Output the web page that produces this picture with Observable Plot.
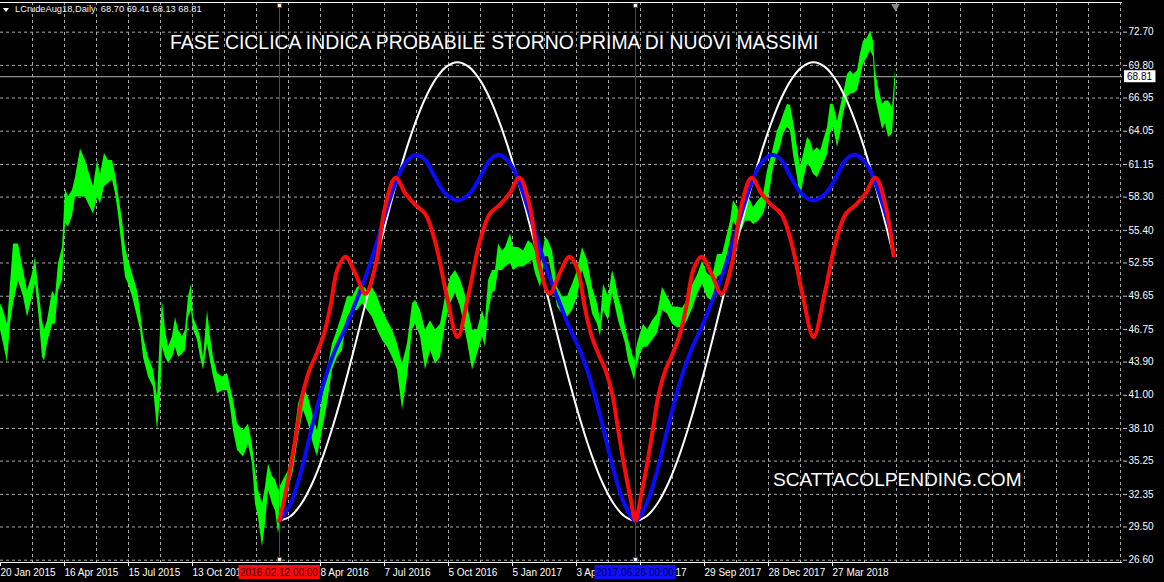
<!DOCTYPE html>
<html><head><meta charset="utf-8">
<script src="https://cdn.jsdelivr.net/npm/d3@7"></script>
<script src="https://cdn.jsdelivr.net/npm/@observablehq/plot@0.6"></script>
<style>
html,body{margin:0;padding:0;background:#000;}
#wrap{position:relative;width:1164px;height:582px;background:#000;overflow:hidden;font-family:"Liberation Sans",Arial,sans-serif;}
.ov{position:absolute;white-space:pre;line-height:1;color:#fff;}
</style></head><body>
<div id="wrap"></div>
<script>
// ---- data ----
const yTicks = [72.70, 69.80, 66.95, 64.05, 61.15, 58.30, 55.40, 52.55, 49.65, 46.75, 43.90, 41.00, 38.10, 35.25, 32.35, 29.50, 26.60];
const xTickBars = [0, 64, 128, 192, 320, 384, 448, 512, 576, 640, 704, 768, 832];
const xTickLabels = ["20 Jan 2015","16 Apr 2015","15 Jul 2015","13 Oct 2015","8 Apr 2016","7 Jul 2016","5 Oct 2016","5 Jan 2017","3 Apr 2017","3 Jul 2017","29 Sep 2017","28 Dec 2017","27 Mar 2018"];
const gridBars = [32,64,96,128,160,192,224,256,288,320,352,384,416,448,480,512,544,576,608,640,672,704,736,768,800,832,864,896,928,960,992,1024,1056,1088,1120];

const greenBar = [0,3,7,10,13,18,23,27,32,35,38,42,44,47,52,55,58,62,65,68,72,75,80,85,88,93,97,100,104,108,112,115,118,122,125,128,132,137,140,143,148,153,157,160,162,165,168,172,175,178,182,185,188,191,193,197,200,203,207,210,213,217,222,227,230,233,237,243,248,252,255,258,262,265,268,272,275,278,283,288,293,298,303,308,313,317,322,327,332,337,342,347,352,357,362,367,372,377,382,387,392,397,402,407,412,415,420,425,430,435,440,445,450,455,460,465,472,477,482,485,488,492,495,498,502,505,510,513,518,523,528,532,535,540,545,548,552,557,562,567,572,577,582,587,592,597,600,603,608,612,615,618,622,625,628,632,634,637,640,643,647,652,657,662,667,672,677,682,687,692,697,702,707,712,717,722,727,730,733,737,740,745,750,753,758,763,767,770,773,777,780,783,787,790,793,797,800,803,807,810,813,817,820,823,827,830,833,837,840,843,847,850,853,857,860,863,867,870,873,875,878,882,885,888,892,895];
const greenLow = [46.7,45.5,43.8,47.2,49.0,51.0,49.6,47.8,49.6,50.7,48.4,44.3,44.0,45.5,47.2,47.2,50.1,51.0,56.0,55.7,56.6,58.3,58.3,58.3,57.7,56.8,58.3,57.7,59.2,59.5,59.8,58.6,56.8,53.6,51.3,50.7,49.6,47.8,46.7,44.3,42.6,41.7,37.9,40.8,45.2,44.3,43.8,44.3,45.2,44.3,44.6,44.9,47.8,48.4,46.7,45.8,44.3,43.2,45.5,44.0,42.6,41.1,41.4,41.4,40.0,37.9,36.2,35.6,36.7,35.0,31.5,30.3,27.7,29.8,32.7,31.5,30.9,28.9,31.5,32.7,34.4,37.3,39.7,38.5,36.7,35.6,37.9,40.2,43.2,44.3,44.9,47.8,48.4,48.4,49.0,48.4,47.8,46.7,45.8,45.2,44.3,43.2,39.7,42.6,46.7,47.2,46.1,43.2,44.9,43.7,44.3,47.2,49.0,49.9,48.7,46.6,43.2,44.6,46.1,45.2,48.1,49.9,50.1,51.9,51.9,52.2,52.5,51.9,52.2,52.2,52.5,52.8,51.6,50.4,53.1,53.1,51.3,48.7,48.1,47.8,48.4,49.6,51.9,50.4,48.1,47.2,46.1,48.4,47.5,49.9,48.7,47.5,46.4,45.5,44.0,42.9,42.3,43.7,44.6,45.2,45.2,45.8,46.4,48.4,48.1,47.2,46.9,46.9,47.5,48.5,49.8,50.7,49.5,49.2,51.3,51.6,53.3,54.5,56.2,55.6,55.1,56.2,56.2,55.9,56.2,56.8,58.0,59.1,60.9,62.0,62.6,63.8,64.4,64.1,62.0,60.0,58.0,59.7,61.2,60.9,60.3,60.0,60.6,61.2,62.0,63.8,64.4,62.6,63.8,65.5,67.0,67.3,67.3,67.6,68.7,69.9,70.5,71.1,70.5,67.0,65.8,64.2,64.7,63.5,63.8,68.1];
const greenHigh = [49.0,48.4,47.2,50.7,54.2,54.2,51.9,50.1,51.6,53.1,50.4,47.5,46.7,47.5,50.1,49.6,52.5,53.9,59.0,58.3,58.9,60.0,62.5,61.5,60.6,59.2,61.5,60.3,62.1,61.5,61.5,60.3,58.6,56.3,53.9,52.8,51.6,50.1,48.4,46.1,44.3,43.2,40.8,46.7,49.3,46.7,45.2,46.1,47.8,46.7,46.1,46.7,49.6,50.7,47.8,46.9,46.1,44.3,48.4,46.1,44.3,42.9,42.6,42.9,41.7,40.6,38.5,37.9,38.5,36.7,34.4,32.7,31.5,33.0,35.0,33.9,33.6,32.7,33.6,34.4,36.7,40.2,41.7,40.8,39.1,37.9,40.8,43.2,45.5,46.7,48.1,49.6,49.6,50.4,50.7,50.1,50.4,49.6,48.4,47.5,46.7,45.5,43.7,45.5,49.0,49.3,48.4,46.7,47.5,46.7,47.2,49.6,51.3,51.9,51.1,49.7,46.7,46.7,48.4,47.5,51.0,51.9,51.9,54.2,53.6,53.9,55.1,53.9,53.9,53.6,54.5,54.2,53.6,52.2,54.8,54.5,53.6,50.4,49.6,49.6,50.7,51.9,53.9,52.8,50.4,49.0,47.5,50.7,49.6,51.9,51.0,49.6,48.4,47.0,45.8,44.6,44.0,45.5,46.4,47.2,46.7,47.5,48.1,50.4,49.6,48.7,48.7,48.6,49.3,50.6,51.5,52.7,51.6,51.3,53.3,53.3,55.1,56.2,58.0,57.4,56.8,58.5,58.0,57.4,58.0,58.5,60.6,61.5,62.6,64.1,64.7,65.5,66.4,66.3,64.9,62.6,60.9,62.0,63.5,63.2,62.3,62.6,62.3,63.2,64.4,66.4,66.4,64.9,66.1,67.3,69.0,69.3,69.0,69.3,70.8,71.9,72.2,72.8,71.9,69.3,67.9,66.4,66.7,66.7,66.1,69.4];

const whiteBar = [279,290,301,312,323,334,345,356,367,378,389,399,407,416,425,434,445,457,469,480,489,498,507,515,525,536,547,558,569,580,591,602,613,624,635,646,657,668,679,690,701,712,723,734,745,755,763,772,781,790,801,813,825,836,845,854,863,871,881,892];
const whiteVal = [30.06,30.44,31.55,33.36,35.80,38.77,42.17,45.86,49.72,53.58,57.32,60.48,62.79,65.06,66.97,68.45,69.63,70.08,69.63,68.45,66.97,65.06,62.79,60.48,57.32,53.58,49.72,45.86,42.17,38.77,35.80,33.36,31.55,30.44,30.06,30.44,31.55,33.36,35.80,38.77,42.17,45.86,49.72,53.58,57.32,60.48,62.79,65.06,66.97,68.45,69.63,70.08,69.63,68.45,66.97,65.06,62.79,60.48,57.32,53.58];

const blueBar = whiteBar;
const blueVal = [30.06,31.5,34.5,38.4,42.0,44.8,46.9,49.3,51.8,54.8,58.0,60.4,61.5,62.0,61.5,60.1,58.6,58.0,58.6,60.1,61.5,62.0,61.5,60.4,58.0,54.8,51.8,49.3,46.9,44.8,42.0,38.4,34.5,31.5,30.06,31.5,34.5,38.4,42.0,44.8,46.9,49.3,51.8,54.8,58.0,60.4,61.5,62.0,61.5,60.1,58.6,58.0,58.6,60.1,61.5,62.0,61.5,60.4,58.0,54.8];

const redBar = [279,284,290,296,302,309,316,323,330,337,345,355,365,375,385,395,405,415,425,435,446,457,468,479,489,499,509,519,529,539,549,559,569,577,584,591,598,605,612,618,624,630,635,640,646,652,658,665,672,679,686,693,701,711,721,731,741,751,761,771,781,791,802,813,824,835,845,855,865,875,885,893];
const redVal = [30.06,32.0,34.7,37.8,41.0,43.2,44.6,46.2,48.8,52.0,53.1,51.6,49.86,52.3,57.6,60.0,58.6,57.6,56.8,54.3,49.8,46.07,49.8,54.3,56.8,57.6,58.6,60.0,57.6,52.3,49.86,51.6,53.1,52.0,48.8,46.2,44.6,43.2,41.0,37.8,34.7,32.0,30.06,32.0,34.7,37.8,41.0,43.2,44.6,46.2,48.8,52.0,53.1,51.6,49.86,52.3,57.6,60.0,58.6,57.6,56.8,54.3,49.8,46.07,49.8,54.3,56.8,57.6,58.6,60.0,57.6,53.2];

const redLineBar = 279, redLineLabel = "2016.02.12 00:00";
const blueLineBar = 635, blueLineLabel = "2017.06.26 00:00";
const lastBar = 895, lastClose = 68.81;
const headerText = "LCrudeAug18,Daily  68.70 69.41 68.13 68.81";
const titleText = "FASE CICLICA INDICA PROBABILE STORNO PRIMA DI NUOVI MASSIMI";
const siteText = "SCATTACOLPENDING.COM";
const yDomain = [26.40, 75.29];
const xDomain = [0, 1122];

// ---- build ----
const green = greenBar.map((b, i) => ({b, lo: greenLow[i], hi: greenHigh[i]}));
const white = whiteBar.map((b, i) => ({b, v: whiteVal[i]}));
const blue = blueBar.map((b, i) => ({b, v: blueVal[i]}));
const red = redBar.map((b, i) => ({b, v: redVal[i]}));
const labelMap = new Map(xTickBars.map((b, i) => [b, xTickLabels[i]]));

const plot = Plot.plot({
  width: 1164, height: 582,
  marginLeft: 0, marginRight: 42, marginTop: 2, marginBottom: 20,
  style: {background: "#000", color: "#fff", fontFamily: "Liberation Sans, Arial, sans-serif", fontSize: "10px"},
  x: {domain: xDomain, axis: null},
  y: {domain: yDomain, axis: null},
  marks: [
    Plot.gridY(yTicks, {stroke: "#a8a8a8", strokeOpacity: 1, strokeDasharray: "3,3"}),
    Plot.gridX(gridBars, {stroke: "#a8a8a8", strokeOpacity: 1, strokeDasharray: "3,3"}),
    Plot.ruleY([lastClose], {stroke: "#b4b4b4", strokeWidth: 1}),
    Plot.areaY(green, {x: "b", y1: "lo", y2: "hi", fill: "#00ff00", curve: "linear"}),
    Plot.ruleX([redLineBar], {stroke: "#ff0000", strokeWidth: 1, shapeRendering: "crispEdges"}),
    Plot.ruleX([blueLineBar], {stroke: "#3030ff", strokeWidth: 1, shapeRendering: "crispEdges"}),
    Plot.line(white, {x: "b", y: "v", stroke: "#ffffff", strokeWidth: 2, curve: "catmull-rom"}),
    Plot.line(blue, {x: "b", y: "v", stroke: "#0a0aff", strokeWidth: 4, curve: "catmull-rom"}),
    Plot.line(red, {x: "b", y: "v", stroke: "#ff0a0a", strokeWidth: 4, curve: "catmull-rom"}),
    Plot.ruleY([yDomain[0], yDomain[1]], {stroke: "#ffffff", strokeWidth: 1}),
    Plot.axisY(yTicks, {anchor: "right", tickFormat: d => d.toFixed(2), tickSize: 4, tickPadding: 2, stroke: "#c8c8c8", fill: "#ffffff", fontSize: 10, label: null}),
    Plot.axisX(xTickBars, {anchor: "bottom", tickFormat: d => labelMap.get(d), tickSize: 4, tickPadding: 2, textAnchor: "start", stroke: "#ffffff", fill: "#ffffff", fontSize: 10, label: null}),
    Plot.dot([redLineBar], {x: d => d, frameAnchor: "top", dy: 3, symbol: "square", r: 2.2, fill: "#fff", stroke: "#ff0000", strokeWidth: 1}),
    Plot.dot([redLineBar], {x: d => d, frameAnchor: "bottom", dy: -3, symbol: "square", r: 2.2, fill: "#fff", stroke: "#ff0000", strokeWidth: 1}),
    Plot.dot([blueLineBar], {x: d => d, frameAnchor: "top", dy: 3, symbol: "square", r: 2.2, fill: "#fff", stroke: "#3030ff", strokeWidth: 1}),
    Plot.dot([blueLineBar], {x: d => d, frameAnchor: "bottom", dy: -3, symbol: "square", r: 2.2, fill: "#fff", stroke: "#3030ff", strokeWidth: 1}),
    Plot.dot([lastBar], {x: d => d, frameAnchor: "top", dy: 4, symbol: "triangle", rotate: 180, r: 3.2, fill: "#8a8a8a"})
  ]
});
const wrap = document.getElementById("wrap");
wrap.appendChild(plot);

const xs = plot.scale("x"), ys = plot.scale("y");
const svg = d3.select(plot);
function dateBox(bar, text, bg, fg) {
  const cx = xs.apply(bar);
  const g = svg.append("g");
  const t = g.append("text").attr("x", cx).attr("y", 575.5).attr("text-anchor", "middle")
    .attr("font-size", 10).attr("fill", fg).text(text);
  const bb = t.node().getBBox();
  g.insert("rect", "text").attr("x", bb.x - 1.5).attr("y", 565).attr("width", bb.width + 3).attr("height", 14).attr("fill", bg);
}
dateBox(redLineBar, redLineLabel, "#ff0a0a", "#3a0000");
dateBox(blueLineBar, blueLineLabel, "#1010ff", "#00003a");

// current price label
{
  const py = ys.apply(lastClose);
  const g = svg.append("g");
  const t = g.append("text").attr("x", 1127).attr("y", py + 3.6).attr("text-anchor", "start")
    .attr("font-size", 10).attr("fill", "#000").text(lastClose.toFixed(2));
  const bb = t.node().getBBox();
  g.insert("rect", "text").attr("x", 1124).attr("y", py - 6).attr("width", bb.width + 6).attr("height", 12).attr("fill", "#fff");
}

function overlay(text, left, top, size, extra) {
  const d = document.createElement("div");
  d.className = "ov";
  d.textContent = text;
  d.style.left = left + "px";
  d.style.top = top + "px";
  d.style.fontSize = size + "px";
  if (extra) Object.assign(d.style, extra);
  wrap.appendChild(d);
  return d;
}
overlay(headerText, 15, 5, 9.3, {color: "#f2f2f2"});
const tri = document.createElement("div");
Object.assign(tri.style, {position: "absolute", left: "3px", top: "8px", width: "0", height: "0",
  borderLeft: "3px solid transparent", borderRight: "3px solid transparent", borderTop: "4px solid #fff"});
wrap.appendChild(tri);
overlay(titleText, 170, 33, 19.4);
overlay(siteText, 773, 469.5, 19.1);
</script>
</body></html>
